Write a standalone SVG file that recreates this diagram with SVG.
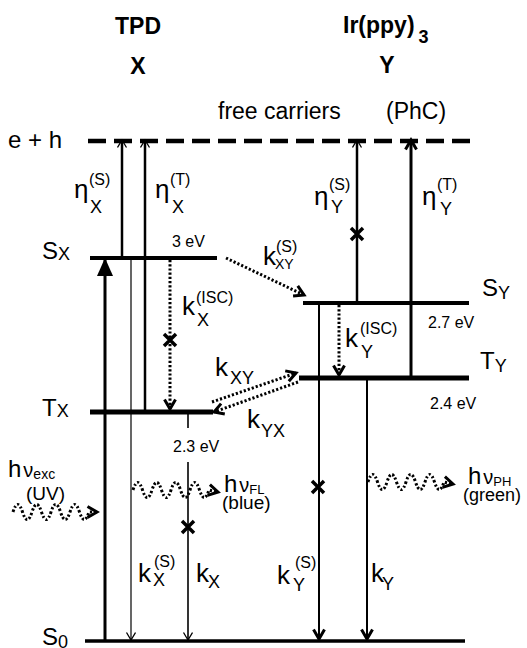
<svg xmlns="http://www.w3.org/2000/svg" width="527" height="648" viewBox="0 0 527 648">
<style>
text{font-family:"Liberation Sans",Arial,sans-serif;fill:#000}
.hd{font-weight:bold;font-size:23px}
.lb{font-size:24px}
.fc{font-size:23px}
.ph{font-size:19px}
.sy{font-size:26px}
.sup{font-size:16px}
.sub{font-size:18px}
.sxy{font-size:14px}
.ev{font-size:16px}
.lvl{stroke:#000;fill:none}
.ln{stroke:#000;fill:none}
.dot{stroke:#000;fill:none;stroke-width:3;stroke-dasharray:2.2 2}
</style>
<defs>
<marker id="tri" markerUnits="userSpaceOnUse" markerWidth="20" markerHeight="18" refX="18" refY="8" orient="auto">
<path d="M0,0 L18,8 L0,16 Z" fill="#000"/>
</marker>
<marker id="sm" markerUnits="userSpaceOnUse" markerWidth="12" markerHeight="12" refX="8" refY="5" orient="auto">
<path d="M0.5,0.5 L8,5 L0.5,9.5" fill="none" stroke="#000" stroke-width="1.3"/>
</marker>
<marker id="ch" markerUnits="userSpaceOnUse" markerWidth="14" markerHeight="16" refX="11" refY="7" orient="auto">
<path d="M1.5,1.5 L11,7 L1.5,12.5" fill="none" stroke="#000" stroke-width="3"/>
</marker>
<g id="xm"><path d="M-6,-6 L6,6 M-6,6 L6,-6" stroke="#000" stroke-width="3.5" fill="none"/></g>
</defs>

<g id="headers">
<text class="hd" x="138" y="34" text-anchor="middle">TPD</text>
<text class="hd" x="138" y="74" text-anchor="middle">X</text>
<text class="hd" x="343" y="33">Ir(ppy)<tspan font-size="18" dx="4" dy="10">3</tspan></text>
<text class="hd" x="387" y="73" text-anchor="middle">Y</text>
<text class="fc" x="218" y="119">free carriers</text>
<text class="fc" x="386" y="119">(PhC)</text>
</g>

<g id="level-eh">
<line x1="88" y1="141" x2="470" y2="141" stroke="#000" stroke-width="4.5" stroke-dasharray="18 8"/>
<text class="lb" x="8" y="148">e + h</text>
</g>

<g id="level-SX">
<line class="lvl" x1="90" y1="258" x2="217" y2="258" stroke-width="4"/>
<text class="lb" x="42" y="259">S<tspan class="sub" dy="1">X</tspan></text>
<text class="ev" x="172" y="247">3 eV</text>
</g>

<g id="level-TX">
<line class="lvl" x1="90" y1="412" x2="213" y2="412" stroke-width="5"/>
<text class="lb" x="42" y="416">T<tspan class="sub" dy="1">X</tspan></text>
<text class="ev" x="173" y="452">2.3 eV</text>
</g>

<g id="level-SY">
<line class="lvl" x1="303" y1="303" x2="469" y2="303" stroke-width="4"/>
<text class="lb" x="482" y="296">S<tspan class="sub" dy="3">Y</tspan></text>
<text class="ev" x="428" y="328">2.7 eV</text>
</g>

<g id="level-TY">
<line class="lvl" x1="299" y1="378" x2="469" y2="378" stroke-width="5"/>
<text class="lb" x="480" y="369">T<tspan class="sub" dy="3">Y</tspan></text>
<text class="ev" x="430" y="409">2.4 eV</text>
</g>

<g id="level-S0">
<line class="lvl" x1="85" y1="641" x2="465" y2="641" stroke-width="3.5"/>
<text class="lb" x="42" y="645">S<tspan class="sub" dy="3">0</tspan></text>
</g>

<g id="connectors">
<line class="ln" x1="105" y1="641" x2="105" y2="258" stroke-width="3" marker-end="url(#tri)"/>
<line class="ln" x1="131" y1="258" x2="131" y2="640" stroke-width="1.2" marker-end="url(#sm)"/>
<line class="ln" x1="122" y1="258" x2="122" y2="140" stroke-width="2.5" marker-end="url(#sm)"/>
<line class="ln" x1="145" y1="412" x2="145" y2="140" stroke-width="2.5" marker-end="url(#sm)"/>
<line class="dot" x1="170" y1="260" x2="170" y2="409" marker-end="url(#ch)"/>
<line class="ln" x1="188" y1="412" x2="188" y2="428" stroke-width="1.6"/>
<line class="ln" x1="188" y1="462" x2="188" y2="640" stroke-width="1.6" marker-end="url(#sm)"/>
<line class="ln" x1="357" y1="303" x2="357" y2="140" stroke-width="2.5" marker-end="url(#sm)"/>
<line class="ln" x1="411" y1="378" x2="411" y2="140" stroke-width="3" marker-end="url(#ch)"/>
<line class="ln" x1="319" y1="303" x2="319" y2="639" stroke-width="2" marker-end="url(#ch)"/>
<line class="ln" x1="367" y1="378" x2="367" y2="639" stroke-width="2" marker-end="url(#ch)"/>
<line class="dot" x1="339" y1="305" x2="339" y2="375" marker-end="url(#ch)"/>
<line class="dot" x1="226" y1="258" x2="304" y2="295" marker-end="url(#ch)"/>
<line class="dot" x1="212" y1="402" x2="296" y2="373" marker-end="url(#ch)"/>
<line class="dot" x1="298" y1="382" x2="214" y2="412" marker-end="url(#ch)"/>
<path class="dot" d="M13,512 q4.7,-15 9.5,0 t9.5,0 t9.5,0 t9.5,0 t9.5,0 t9.5,0 t9.5,0 t9.5,0 L97,512" marker-end="url(#ch)"/>
<path class="dot" d="M133,490 q4.7,-15 9.5,0 t9.5,0 t9.5,0 t9.5,0 t9.5,0 t9.5,0 t9.5,0 t9.5,0 L218,492" marker-end="url(#ch)"/>
<path class="dot" d="M368,482 q4.7,-15 9.5,0 t9.5,0 t9.5,0 t9.5,0 t9.5,0 t9.5,0 t9.5,0 t9.5,0 L453,484" marker-end="url(#ch)"/>
<use href="#xm" x="170" y="340"/>
<use href="#xm" x="357" y="234"/>
<use href="#xm" x="188" y="527"/>
<use href="#xm" x="318" y="487"/>
</g>

<g id="labels">
<text class="sy" x="74" y="198">η</text><text class="sup" x="89" y="185">(S)</text><text class="sub" x="90" y="213">X</text>
<text class="sy" x="155" y="198">η</text><text class="sup" x="170" y="185">(T)</text><text class="sub" x="172" y="213">X</text>
<text class="sy" x="314" y="205">η</text><text class="sup" x="329" y="190">(S)</text><text class="sub" x="331" y="213">Y</text>
<text class="sy" x="422" y="205">η</text><text class="sup" x="437" y="190">(T)</text><text class="sub" x="440" y="215">Y</text>
<text class="sy" x="182" y="315">k</text><text class="sup" x="196" y="303">(ISC)</text><text class="sub" x="197" y="326">X</text>
<text class="sy" x="263" y="265">k</text><text class="sup" x="276" y="252">(S)</text><text class="sxy" x="275" y="269">XY</text>
<text class="sy" x="215" y="376">k</text><text class="sub" x="230" y="384">XY</text>
<text class="sy" x="247" y="428">k</text><text class="sub" x="261" y="437">YX</text>
<text class="sy" x="345" y="347">k</text><text class="sup" x="360" y="334">(ISC)</text><text class="sub" x="361" y="358">Y</text>
<text class="sy" x="138" y="582">k</text><text class="sup" x="154" y="567">(S)</text><text class="sub" x="153" y="586">X</text>
<text class="sy" x="196" y="582">k</text><text class="sub" x="208" y="588">X</text>
<text class="sy" x="277" y="584">k</text><text class="sup" x="295" y="568">(S)</text><text class="sub" x="293" y="591">Y</text>
<text class="sy" x="371" y="582">k</text><text class="sub" x="382" y="590">Y</text>
<text class="lb" x="8" y="477">h<tspan font-size="20" dx="2">ν</tspan><tspan font-size="14" dy="2">exc</tspan></text>
<text class="ph" x="26" y="500">(UV)</text>
<text class="lb" x="224" y="492">h<tspan font-size="20" dx="2">ν</tspan><tspan font-size="13" dy="2">FL</tspan></text>
<text class="ph" x="222" y="509">(blue)</text>
<text class="lb" x="468" y="484">h<tspan font-size="20" dx="2">ν</tspan><tspan font-size="13" dy="2">PH</tspan></text>
<text class="ph" x="463" y="501" style="font-size:18px">(green)</text>
</g>
</svg>
